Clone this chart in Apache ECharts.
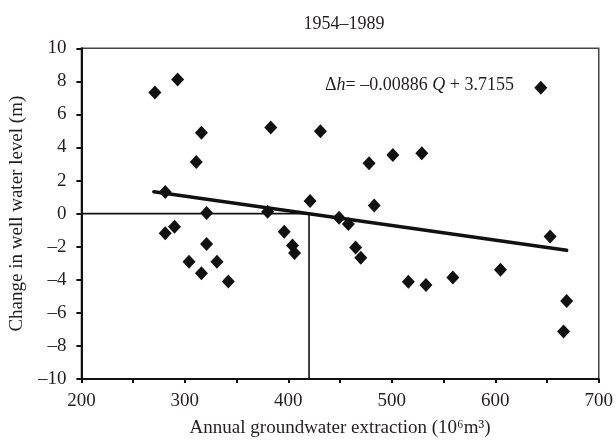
<!DOCTYPE html>
<html><head><meta charset="utf-8">
<script src="https://cdn.jsdelivr.net/npm/echarts@6/dist/echarts.min.js"></script>
<style>html,body{margin:0;padding:0;background:#fff}#c{width:616px;height:443px}</style>
</head><body><div id="c"></div>
<script>
// Annual groundwater extraction (10^6 m^3) per year, 1954–1989
const extraction = [271, 293, 316, 311, 281, 321, 290, 281, 321, 304, 331, 316, 342,
  383, 431, 478, 501, 529, 421, 483, 380, 449, 458, 396, 404, 406, 465, 470, 516, 533,
  644, 653, 559, 605, 669, 666];
// Change in well water level (m)
const levelChange = [7.33, 8.12, 4.89, 3.13, 1.31, 0.04, -0.79, -1.19, -1.84, -2.91, -2.91, -3.60, -4.10,
  5.21, 4.99, 3.05, 3.55, 3.66, 0.77, 0.49, 0.12, -0.25, -0.62, -1.09, -1.92, -2.38, -2.04, -2.67, -4.12, -4.31,
  7.62, -1.38, -3.86, -3.40, -5.28, -7.13];
// regression line endpoints: Δh = -0.00886 Q + 3.7155
const trendX = [270, 669];
const trendY = [1.32, -2.21];
// reference lines (Δh = 0 up to Q = 420, then Q = 420 down)
const refX = [200, 420, 420];
const refY = [0, 0, -10];

const FONT = '"Liberation Serif", "DejaVu Serif", serif';
const TXT = '#231f20';
const neg = v => v < 0 ? '\u2013' + (-v) : String(v);

const chart = echarts.init(document.getElementById('c'), null, {renderer: 'canvas'});
chart.setOption({
  animation: false,
  backgroundColor: '#fff',
  title: [{
    text: '1954\u20131989', left: 339, top: 10, textAlign: 'center',
    textStyle: {fontFamily: FONT, fontSize: 18, fontWeight: 'normal', color: TXT}
  }, {
    text: '{n|\u0394}{i|h}{n|= \u20130.00886 }{i|Q}{n| + 3.7155}',
    left: 320, top: 71,
    textStyle: {
      fontWeight: 'normal', fontFamily: FONT, fontSize: 18, color: TXT,
      rich: {
        n: {fontFamily: FONT, fontSize: 18, fontWeight: 'normal', color: TXT},
        i: {fontFamily: FONT, fontSize: 18, fontWeight: 'normal', fontStyle: 'italic', color: TXT}
      }
    }
  }],
  grid: {left: 77.3, right: 14.3, top: 48.3, bottom: 58, show: true, borderColor: '#444', borderWidth: 1.5, containLabel: false},
  xAxis: {
    type: 'value', min: 200, max: 700, interval: 50,
    name: 'Annual groundwater extraction (10\u2076m\u00b3)', nameLocation: 'middle', nameGap: 40,
    nameTextStyle: {fontFamily: FONT, fontSize: 19, color: TXT},
    axisLine: {show: true, onZero: false, lineStyle: {color: '#111', width: 2}},
    axisTick: {show: true, inside: false, length: 4, lineStyle: {color: '#111', width: 2}},
    axisLabel: {fontFamily: FONT, fontSize: 19, color: TXT, margin: 13,
      formatter: v => (v % 100 === 0 ? String(v) : '')},
    splitLine: {show: false}
  },
  yAxis: {
    type: 'value', min: -10, max: 10, interval: 2,
    name: 'Change in well water level (m)', nameLocation: 'middle', nameGap: 50, nameRotate: 90,
    nameTextStyle: {fontFamily: FONT, fontSize: 19, color: TXT},
    axisLine: {show: true, onZero: false, lineStyle: {color: '#111', width: 2}},
    axisTick: {show: true, inside: false, length: 5, lineStyle: {color: '#111', width: 2}},
    axisLabel: {fontFamily: FONT, fontSize: 19, color: TXT, margin: 15, formatter: neg},
    splitLine: {show: false}
  },
  series: [{
    type: 'line', data: refX.map((x, i) => [x, refY[i]]),
    symbol: 'none', lineStyle: {color: '#111', width: 1.6}, z: 2, silent: true
  }, {
    type: 'line', data: trendX.map((x, i) => [x, trendY[i]]),
    symbol: 'none', lineStyle: {color: '#111', width: 3.5, cap: 'round'}, z: 3, silent: true
  }, {
    type: 'scatter', data: extraction.map((x, i) => [x, levelChange[i]]),
    symbol: 'diamond', symbolSize: [13, 14],
    itemStyle: {color: '#111', opacity: 1}, z: 4
  }]
});
</script></body></html>
